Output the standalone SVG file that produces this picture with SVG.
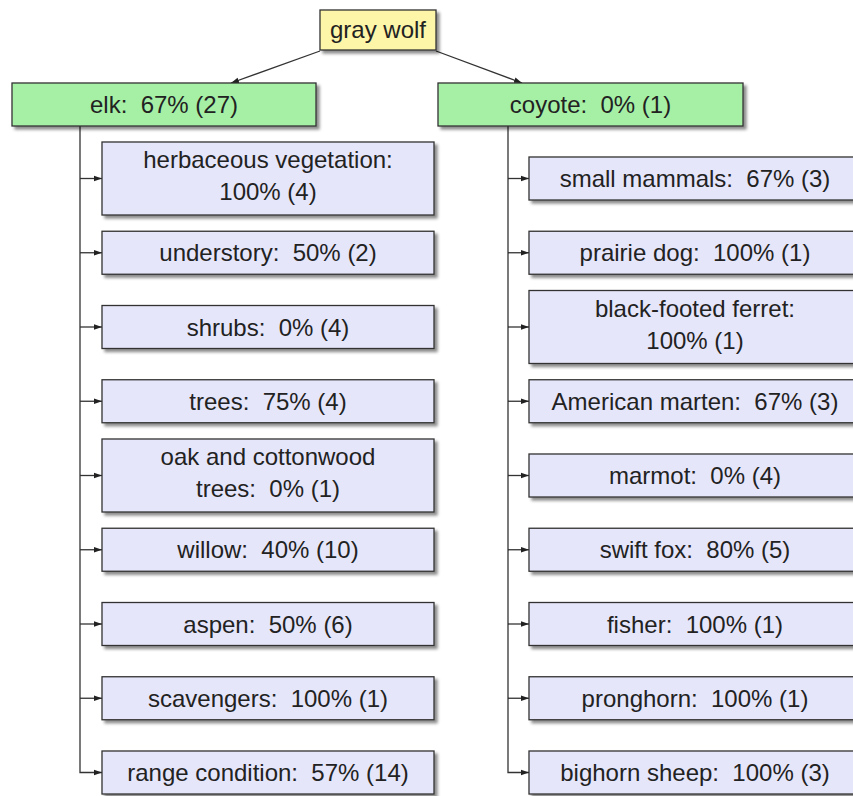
<svg xmlns="http://www.w3.org/2000/svg" width="853" height="796" viewBox="0 0 853 796">
<style>
  text { font-family: "Liberation Sans", Arial, sans-serif; font-size: 24px; fill: #222; text-anchor: middle; }
  .box { stroke: #333; stroke-width: 1.3; filter: url(#sh); }
  .root { fill: #fdf5a8; }
  .mid { fill: #a6f0a6; }
  .leaf { fill: #e6e6fa; }
  .edge { fill: none; stroke: #333; stroke-width: 1.3; }
</style>
<defs>
  <filter id="sh" x="-10%" y="-20%" width="130%" height="160%">
    <feDropShadow dx="3" dy="3" stdDeviation="1.5" flood-color="#000" flood-opacity="0.45"/>
  </filter>
  <marker id="ar" viewBox="0 0 10 10" refX="10" refY="5" markerWidth="8" markerHeight="8" markerUnits="userSpaceOnUse" orient="auto">
    <path d="M0,1.5 L10,5 L0,8.5 z" fill="#222"/>
  </marker>
</defs>

<g id="connectors">
  <path class="edge" d="M320,51 L231,83" marker-end="url(#ar)"/>
  <path class="edge" d="M436,51 L522,83" marker-end="url(#ar)"/>
  <path class="edge" d="M80,126 L80,772.5 L102,772.5" marker-end="url(#ar)"/>
  <path class="edge" d="M80,178.5 H102" marker-end="url(#ar)"/>
  <path class="edge" d="M80,252.75 H102" marker-end="url(#ar)"/>
  <path class="edge" d="M80,327 H102" marker-end="url(#ar)"/>
  <path class="edge" d="M80,401.25 H102" marker-end="url(#ar)"/>
  <path class="edge" d="M80,475.5 H102" marker-end="url(#ar)"/>
  <path class="edge" d="M80,549.75 H102" marker-end="url(#ar)"/>
  <path class="edge" d="M80,624 H102" marker-end="url(#ar)"/>
  <path class="edge" d="M80,698.25 H102" marker-end="url(#ar)"/>
  <path class="edge" d="M508,126 L508,772.5 L529,772.5" marker-end="url(#ar)"/>
  <path class="edge" d="M508,178.5 H529" marker-end="url(#ar)"/>
  <path class="edge" d="M508,252.75 H529" marker-end="url(#ar)"/>
  <path class="edge" d="M508,327 H529" marker-end="url(#ar)"/>
  <path class="edge" d="M508,401.25 H529" marker-end="url(#ar)"/>
  <path class="edge" d="M508,475.5 H529" marker-end="url(#ar)"/>
  <path class="edge" d="M508,549.75 H529" marker-end="url(#ar)"/>
  <path class="edge" d="M508,624 H529" marker-end="url(#ar)"/>
  <path class="edge" d="M508,698.25 H529" marker-end="url(#ar)"/>
</g>

<g id="gray-wolf"><rect class="box root" x="320" y="10" width="116" height="40"/><text x="378" y="38">gray wolf</text></g>

<g id="elk"><rect class="box mid" x="12" y="83" width="304" height="43"/><text x="164" y="113">elk:&#160; 67% (27)</text></g>
<g id="coyote"><rect class="box mid" x="438" y="83" width="305" height="43"/><text x="590.5" y="113">coyote:&#160; 0% (1)</text></g>

<g id="herbaceous"><rect class="box leaf" x="102" y="142" width="332" height="73"/><text x="268" y="168">herbaceous vegetation:</text><text x="268" y="200">100% (4)</text></g>
<g id="understory"><rect class="box leaf" x="102" y="231.25" width="332" height="43"/><text x="268" y="261.25">understory:&#160; 50% (2)</text></g>
<g id="shrubs"><rect class="box leaf" x="102" y="305.5" width="332" height="43"/><text x="268" y="335.5">shrubs:&#160; 0% (4)</text></g>
<g id="trees"><rect class="box leaf" x="102" y="379.75" width="332" height="43"/><text x="268" y="409.75">trees:&#160; 75% (4)</text></g>
<g id="oak"><rect class="box leaf" x="102" y="439" width="332" height="73"/><text x="268" y="465">oak and cottonwood</text><text x="268" y="497">trees:&#160; 0% (1)</text></g>
<g id="willow"><rect class="box leaf" x="102" y="528.25" width="332" height="43"/><text x="268" y="558.25">willow:&#160; 40% (10)</text></g>
<g id="aspen"><rect class="box leaf" x="102" y="602.5" width="332" height="43"/><text x="268" y="632.5">aspen:&#160; 50% (6)</text></g>
<g id="scavengers"><rect class="box leaf" x="102" y="676.75" width="332" height="43"/><text x="268" y="706.75">scavengers:&#160; 100% (1)</text></g>
<g id="range-condition"><rect class="box leaf" x="102" y="751" width="332" height="43"/><text x="268" y="781">range condition:&#160; 57% (14)</text></g>

<g id="small-mammals"><rect class="box leaf" x="529" y="157" width="333" height="43"/><text x="695" y="187">small mammals:&#160; 67% (3)</text></g>
<g id="prairie-dog"><rect class="box leaf" x="529" y="231.25" width="333" height="43"/><text x="695" y="261.25">prairie dog:&#160; 100% (1)</text></g>
<g id="black-footed-ferret"><rect class="box leaf" x="529" y="290.5" width="333" height="73"/><text x="695" y="316.5">black-footed ferret:</text><text x="695" y="348.5">100% (1)</text></g>
<g id="american-marten"><rect class="box leaf" x="529" y="379.75" width="333" height="43"/><text x="695" y="409.75">American marten:&#160; 67% (3)</text></g>
<g id="marmot"><rect class="box leaf" x="529" y="454" width="333" height="43"/><text x="695" y="484">marmot:&#160; 0% (4)</text></g>
<g id="swift-fox"><rect class="box leaf" x="529" y="528.25" width="333" height="43"/><text x="695" y="558.25">swift fox:&#160; 80% (5)</text></g>
<g id="fisher"><rect class="box leaf" x="529" y="602.5" width="333" height="43"/><text x="695" y="632.5">fisher:&#160; 100% (1)</text></g>
<g id="pronghorn"><rect class="box leaf" x="529" y="676.75" width="333" height="43"/><text x="695" y="706.75">pronghorn:&#160; 100% (1)</text></g>
<g id="bighorn-sheep"><rect class="box leaf" x="529" y="751" width="333" height="43"/><text x="695" y="781">bighorn sheep:&#160; 100% (3)</text></g>
</svg>
